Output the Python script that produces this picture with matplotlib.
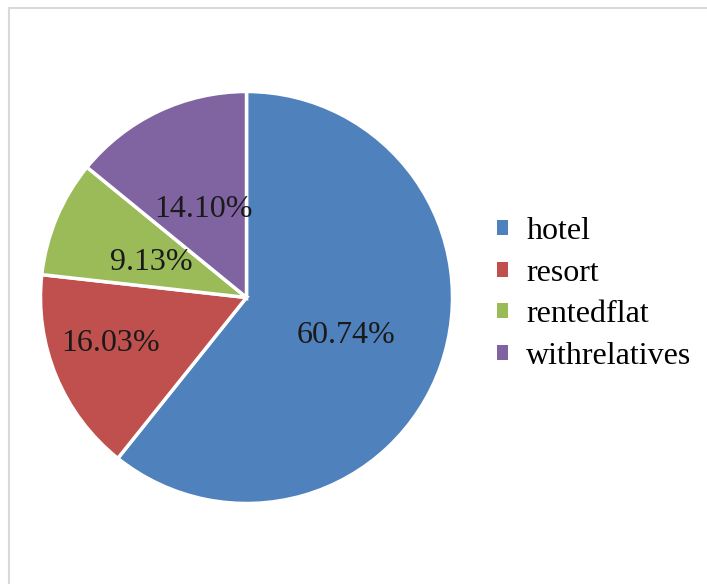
""" Pie chart of accommodation types with percentage labels. """

import numpy as np
import matplotlib.pyplot as plt
from matplotlib.patches import Rectangle, Patch

## Data
categories = ['hotel', 'resort', 'rentedflat', 'withrelatives']
shares = [60.74, 16.03, 9.13, 14.10]

## Some colors
colors = ['#4F81BD', '#C0504D', '#9BBB59', '#8064A2']
label_dist = [0.51, 0.69, 0.50, 0.49]
label_shift = [0, -5, 1, 0]          # degrees, nudges a label off the wedge centre

plt.rcParams['font.family'] = ['Liberation Serif', 'DejaVu Serif']

fig = plt.figure(figsize=(7.07, 5.84), dpi=100)

# light frame, only the top and left edges fall inside the figure
fig.patches.append(Rectangle((8.5 / 707, -0.1), 1.2, 1.1 - 8.5 / 584,
                             transform=fig.transFigure, fill=False,
                             edgecolor='#d9d9d9', linewidth=1.5))

ax = fig.add_axes([40.5 / 707, 80.5 / 584, 412 / 707, 412 / 584])
wedges, _ = ax.pie(shares, colors=colors, startangle=90, counterclock=False,
                   wedgeprops=dict(edgecolor='white', linewidth=2.5))
ax.set_xlim(-1, 1)
ax.set_ylim(-1, 1)
ax.set_aspect('equal')

# percentage labels
start = 90.0
for share, dist, shift in zip(shares, label_dist, label_shift):
    sweep = share / sum(shares) * 360
    mid = np.radians(start - sweep / 2 + shift)
    ax.text(dist * np.cos(mid), dist * np.sin(mid) - 0.015, '%.2f%%' % share,
            ha='center', va='center', fontsize=23, color='#1a1a1a')
    start -= sweep

handles = [Patch(facecolor=c, edgecolor='none') for c in colors]
fig.legend(handles, categories, loc='center left',
           bbox_to_anchor=(481 / 707, 1 - 294 / 584), frameon=False,
           fontsize=23, handlelength=0.35, handleheight=0.35,
           handletextpad=0.57, labelspacing=0.40, borderpad=0)

fig.savefig('out.png', dpi=100)
